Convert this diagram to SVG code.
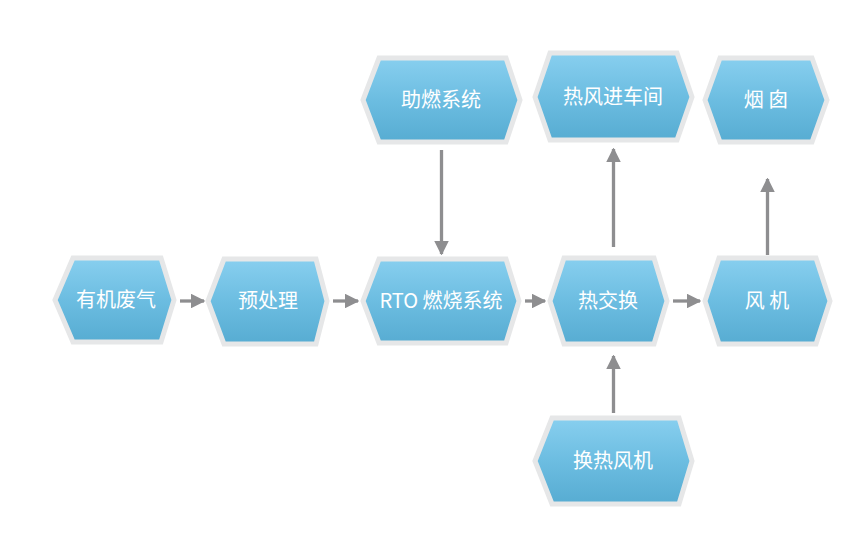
<svg xmlns="http://www.w3.org/2000/svg" width="862" height="550" viewBox="0 0 862 550">
<defs>
<linearGradient id="g" x1="0" y1="0" x2="0" y2="1">
<stop offset="0" stop-color="#88cfef"/>
<stop offset="0.5" stop-color="#6cbde1"/>
<stop offset="1" stop-color="#57acd2"/>
</linearGradient>
<marker id="ah" viewBox="0 0 10 10" refX="9" refY="5" markerWidth="4.5" markerHeight="4.5" orient="auto" markerUnits="strokeWidth">
<path d="M0,0 L10,5 L0,10 Z" fill="#8e8e90"/>
</marker>
<style>
.hex{fill:url(#g);stroke:#e6e7e8;stroke-width:5;stroke-linejoin:miter}
.t{fill:#fff;font-family:"Noto Sans CJK SC","Noto Sans",sans-serif;font-size:20px;text-anchor:middle}
.c{stroke:#8e8e90;stroke-width:3.3;fill:none;marker-end:url(#ah)}
</style>
</defs>
<rect width="862" height="550" fill="#fff"/>
<g id="connectors">
<line class="c" x1="180" y1="301" x2="204" y2="301"/>
<line class="c" x1="333" y1="301" x2="358" y2="301"/>
<line class="c" x1="525" y1="301" x2="545" y2="301"/>
<line class="c" x1="673" y1="301" x2="700" y2="301"/>
<line class="c" x1="441.5" y1="150" x2="441.5" y2="254"/>
<line class="c" x1="613.5" y1="247" x2="613.5" y2="149"/>
<line class="c" x1="767.5" y1="255" x2="767.5" y2="179"/>
<line class="c" x1="613.5" y1="413" x2="613.5" y2="356"/>
</g>
<g id="n1"><polygon class="hex" points="55,300 73,258 161,258 174,300 161,342 73,342"/><text class="t" x="116" y="307">有机废气</text></g>
<g id="n2"><polygon class="hex" points="208,301 224,259 316,259 327,301 316,344 224,344"/><text class="t" x="268" y="308">预处理</text></g>
<g id="n3"><polygon class="hex" points="363,301 379,259 506,259 519,301 506,343 379,343"/><text class="t" x="441" y="308">RTO 燃烧系统</text></g>
<g id="n4"><polygon class="hex" points="550,301 564,258 654,258 667,301 654,344 564,344"/><text class="t" x="608" y="308">热交换</text></g>
<g id="n5"><polygon class="hex" points="705,301 719,258 816,258 830,301 816,344 719,344"/><text class="t" x="767" y="308">风 机</text></g>
<g id="n6"><polygon class="hex" points="363,100 379,58 506,58 520,100 506,142 379,142"/><text class="t" x="441" y="107">助燃系统</text></g>
<g id="n7"><polygon class="hex" points="535,97 550,53 677,53 692,97 677,140 550,140"/><text class="t" x="613" y="104">热风进车间</text></g>
<g id="n8"><polygon class="hex" points="705,100 720,58 812,58 827,100 812,142 720,142"/><text class="t" x="766" y="107">烟 囱</text></g>
<g id="n9"><polygon class="hex" points="535,461 552,418 679,418 692,461 679,504 552,504"/><text class="t" x="613" y="468">换热风机</text></g>
</svg>
